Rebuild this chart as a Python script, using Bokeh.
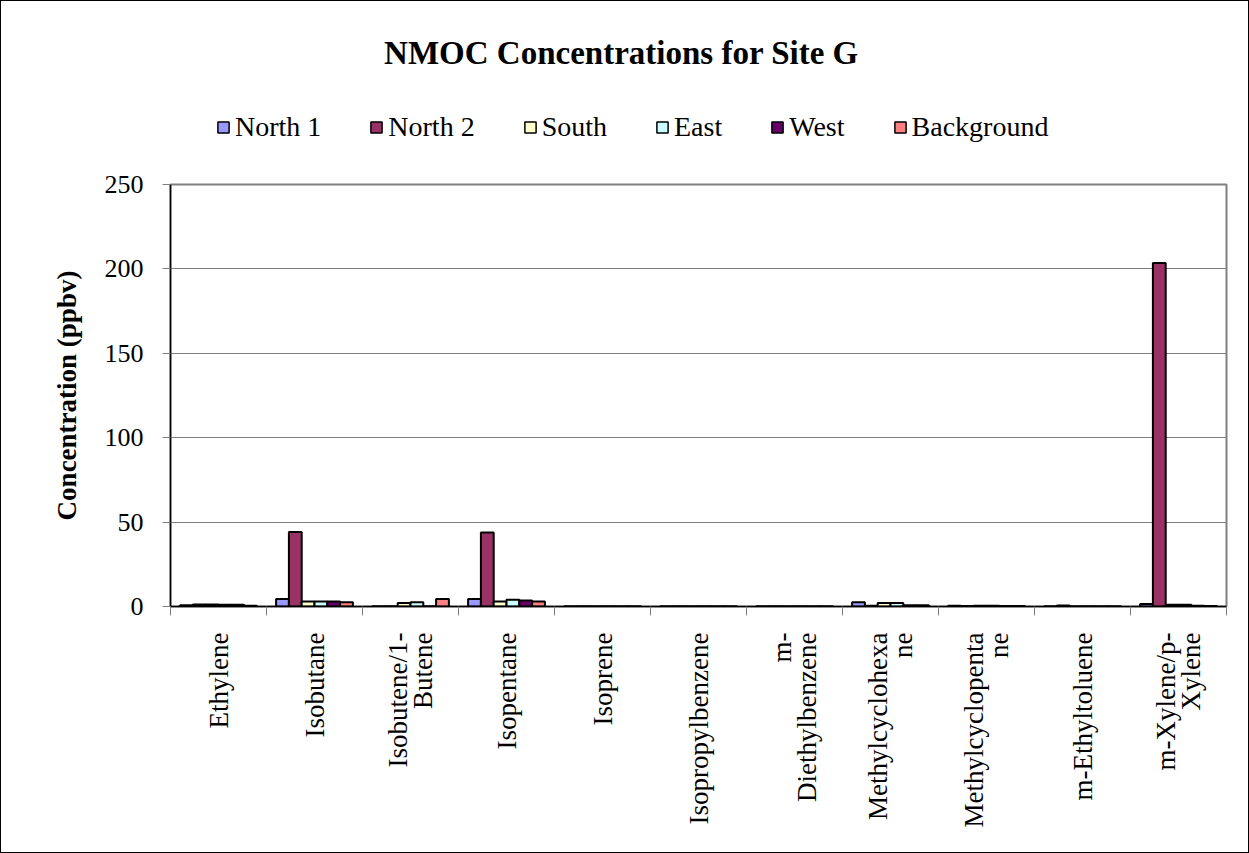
import math
import numpy as np
from bokeh.plotting import figure
from bokeh.layouts import column
from bokeh.models import (ColumnDataSource, FixedTicker, Range1d,
                          Legend, LegendItem, Label)
from bokeh.embed import file_html
from bokeh.resources import INLINE

# ---------------- data ----------------
categories = ["Ethylene", "Isobutane", "Isobutene/1-\nButene", "Isopentane",
              "Isoprene", "Isopropylbenzene", "m-\nDiethylbenzene",
              "Methylcyclohexa\nne", "Methylcyclopenta\nne", "m-Ethyltoluene",
              "m-Xylene/p-\nXylene"]
series_names = ["North 1", "North 2", "South", "East", "West", "Background"]
north1     = [0.8, 4.5, 0.2, 4.5, 0.2, 0.1, 0.1, 2.5, 0.5, 0.2, 1.5]
north2     = [1.2, 44.2, 0.2, 43.8, 0.2, 0.1, 0.1, 0.5, 0.3, 0.6, 203.5]
south      = [1.2, 3.0, 2.0, 3.0, 0.2, 0.1, 0.1, 2.0, 0.5, 0.2, 1.0]
east       = [1.0, 3.0, 2.5, 4.0, 0.2, 0.1, 0.1, 2.0, 0.5, 0.2, 1.0]
west       = [1.0, 3.0, 0.2, 3.5, 0.2, 0.1, 0.1, 0.8, 0.3, 0.2, 0.5]
background = [0.5, 2.5, 4.5, 3.0, 0.2, 0.1, 0.1, 0.8, 0.3, 0.1, 0.3]
series_values = [north1, north2, south, east, west, background]
colors = ["#9999FF", "#993366", "#FFFFCC", "#CCFFFF", "#660066", "#FF8080"]
y_ticks = [0, 50, 100, 150, 200, 250]
title_text = "NMOC Concentrations for Site G"
y_title = "Concentration (ppbv)"

FONT = "Liberation Serif"
n_cat = len(categories)
n_ser = len(series_names)
bar_w = 1.0 / (n_ser + 1.5)   # Excel gap width 150%
centers = np.arange(n_cat) + 0.5

# ---------------- header (title + legend) ----------------
head = figure(width=1247, height=163, output_backend="svg", toolbar_location=None,
              x_range=Range1d(0, n_cat), y_range=Range1d(0, 250),
              min_border_left=169, min_border_right=22,
              min_border_top=0, min_border_bottom=0)
head.axis.visible = False
head.grid.visible = False
head.outline_line_color = None
head.background_fill_color = "white"
head.border_fill_color = "white"

head.add_layout(Label(x=451, y=112, x_units="screen", y_units="screen",
                      text=title_text, text_font=FONT, text_font_size="33px",
                      text_font_style="bold", text_color="black",
                      text_align="center", text_baseline="middle"))

items = []
for j, (name, vals, col) in enumerate(zip(series_names, series_values, colors)):
    xs = centers + (j - (n_ser - 1) / 2) * bar_w
    # legend proxy (hidden): same series, drawn only as the legend swatch
    r = head.vbar(x=xs, top=vals, width=bar_w, fill_color=col,
                  line_color="black", line_width=1.5, visible=False)
    items.append(LegendItem(label=name, renderers=[r]))
legend = Legend(items=items, orientation="horizontal", location=(46, 21),
                glyph_width=14, glyph_height=14, label_standoff=5, spacing=48,
                padding=0, margin=0, background_fill_alpha=0,
                inactive_fill_alpha=0, click_policy="none",
                border_line_color=None, label_text_font=FONT,
                label_text_font_size="28px", label_text_color="black")
head.add_layout(legend)

# ---------------- main chart ----------------
p = figure(width=1247, height=688, output_backend="svg", toolbar_location=None,
           x_range=Range1d(0, n_cat), y_range=Range1d(0, 250),
           min_border_left=169, min_border_right=22, min_border_top=20,
           min_border_bottom=246)
p.background_fill_color = "white"
p.border_fill_color = "white"
p.outline_line_color = "#808080"
p.outline_line_width = 2

for j, (name, vals, col) in enumerate(zip(series_names, series_values, colors)):
    xs = centers + (j - (n_ser - 1) / 2) * bar_w
    src = ColumnDataSource(dict(x=xs, top=vals))
    p.vbar(x="x", top="top", bottom=0, width=bar_w, source=src,
           fill_color=col, line_color="black", line_width=2)

p.xgrid.visible = False
p.ygrid.grid_line_color = "#808080"
p.ygrid.grid_line_width = 1

ya = p.yaxis[0]
ya.ticker = FixedTicker(ticks=y_ticks)
ya.axis_line_color = "black"
ya.axis_line_width = 1.5
ya.major_tick_in = 0
ya.major_tick_out = 8
ya.major_tick_line_color = "#808080"
ya.minor_tick_line_color = None
ya.major_label_text_font = FONT
ya.major_label_text_font_size = "26px"
ya.major_label_text_color = "black"
ya.major_label_standoff = 19
ya.axis_label = y_title
ya.axis_label_text_font = FONT
ya.axis_label_text_font_size = "27px"
ya.axis_label_text_font_style = "bold"
ya.axis_label_text_color = "black"
ya.axis_label_standoff = 20

xa = p.xaxis[0]
xa.ticker = FixedTicker(ticks=list(centers), minor_ticks=list(range(n_cat + 1)))
xa.major_label_overrides = {float(c): lab for c, lab in zip(centers, categories)}
xa.axis_line_color = "black"
xa.axis_line_width = 1.5
xa.major_tick_line_color = None
xa.major_tick_in = 0
xa.major_tick_out = 0
xa.minor_tick_line_color = "#808080"
xa.minor_tick_in = 0
xa.minor_tick_out = 9
xa.major_label_orientation = math.pi / 2
xa.major_label_text_font = FONT
xa.major_label_text_font_size = "27px"
xa.major_label_text_color = "black"
xa.major_label_text_line_height = 0.85
xa.major_label_standoff = 17

layout = column(head, p, spacing=0)
layout.styles = {"border": "1px solid black"}

open("out.html", "w").write(file_html(layout, INLINE))
